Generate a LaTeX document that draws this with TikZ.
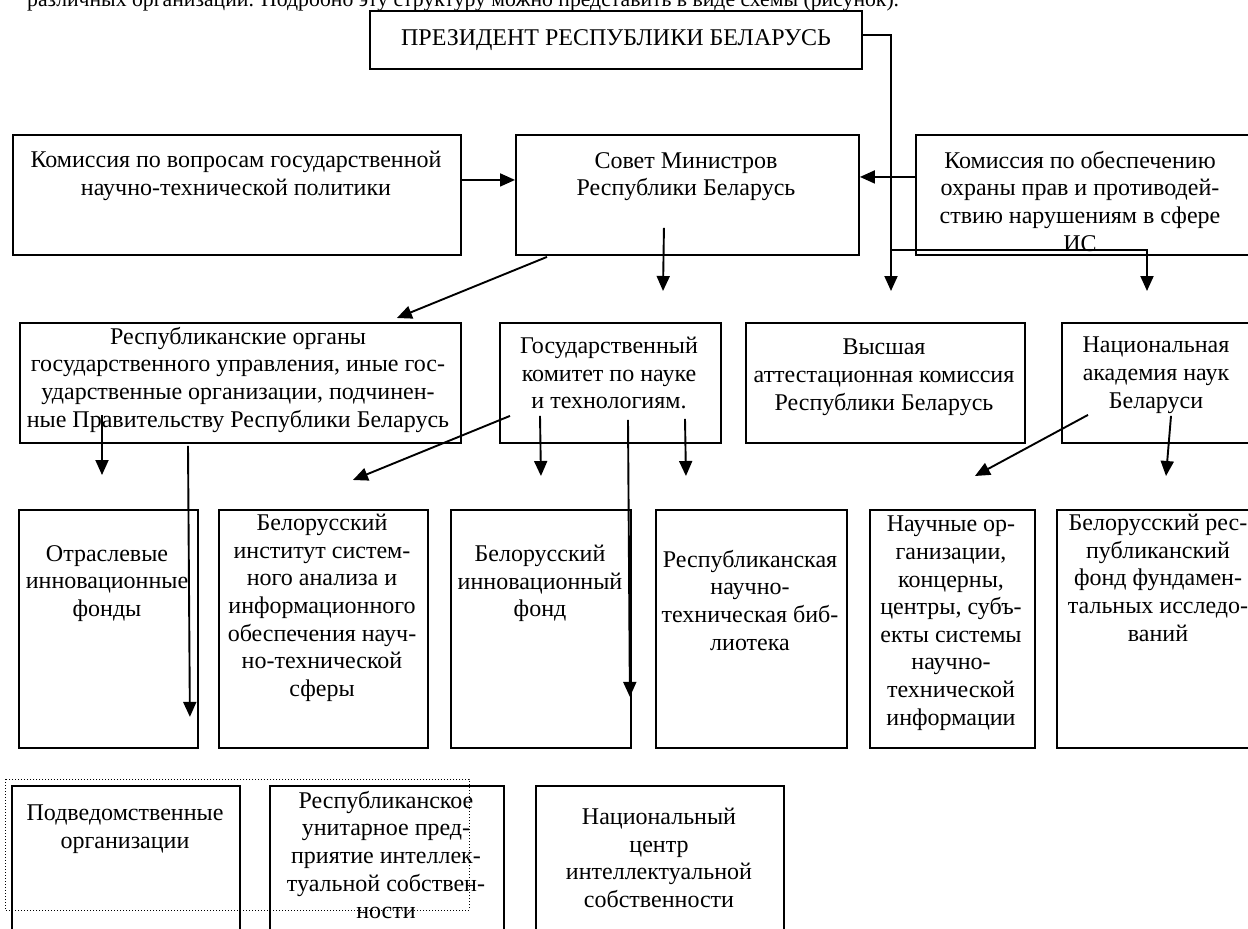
\documentclass[tikz,border=0pt]{standalone}
\usepackage{fontspec}
\setmainfont{Liberation Serif}
\usetikzlibrary{arrows.meta}
\newcommand\fs{\fontsize{24}{27.6}\selectfont}
\newcommand\bx[5]{\node[box, minimum width={(#4)-(#2)}, minimum height={(#5)-(#3)}] (#1) at (#2,#3) {};}
\begin{document}
\begin{tikzpicture}[x=1pt,y=-1pt,
  box/.style={draw, line width=1.9pt, inner sep=0pt, anchor=north west, rectangle},
  lbl/.style={align=center, inner sep=0pt, anchor=north, font=\fs},
  arr/.style={line width=1.9pt, -{Triangle[length=15pt,width=13pt]}}]
\useasboundingbox (0,0) rectangle (1248,929);
\fill[white] (0,0) rectangle (1248,929);
\clip (0,0) rectangle (1248,929);

\node[anchor=base west, inner sep=0pt, font=\fontsize{21.7}{26}\selectfont] (intro) at (27,6) {различных организаций. Подробно эту структуру можно представить в виде схемы (рисунок).};

% boxes
\node[draw, line width=1.9pt, inner sep=0pt, minimum width=492, minimum height=58, font=\fs] (pres) at (616,40) {ПРЕЗИДЕНТ РЕСПУБЛИКИ БЕЛАРУСЬ};
\bx{kom1}{12}{134}{460}{254}
\bx{sovet}{515}{134}{858}{254}
\bx{kom2}{915}{134}{1262}{254}
\bx{resp}{19}{322}{460}{442}
\bx{gosk}{499}{322}{720}{442}
\bx{vys}{745}{322}{1024}{442}
\bx{nan}{1061}{322}{1262}{442}
\bx{otr}{18}{509}{197}{747}
\bx{bisa}{218}{509}{427}{747}
\bx{bif}{450}{509}{630}{747}
\bx{rntb}{655}{509}{846}{747}
\bx{nauch}{869}{509}{1034}{747}
\bx{brf}{1056}{509}{1262}{747}
\bx{podv}{11}{785}{239}{965}
\bx{ruip}{269}{785}{503}{965}
\bx{nc}{535}{785}{783}{965}
\draw[dotted, line width=1pt] (5,779) rectangle (469,910);

% labels
\node[lbl] (kom1t) at (236,151) {Комиссия по вопросам государственной\\научно-технической политики};
\node[lbl] (sovett) at (686,152) {Совет Министров\\Республики Беларусь};
\node[lbl] (kom2t) at (1080,151) {Комиссия по обеспечению\\охраны прав и противодей-\\ствию нарушениям в сфере\\ИС};
\node[lbl] (respt) at (238,327) {Республиканские органы\\государственного управления, иные гос-\\ударственные организации, подчинен-\\ные Правительству Республики Беларусь};
\node[lbl] (goskt) at (609,337) {Государственный\\комитет по науке\\и технологиям.};
\node[lbl] (vyst) at (884,339) {Высшая\\аттестационная комиссия\\Республики Беларусь};
\node[lbl] (nant) at (1156,337) {Национальная\\академия наук\\Беларуси};
\node[lbl] (otrt) at (107,545) {Отраслевые\\инновационные\\фонды};
\node[lbl] (bisat) at (322,514) {Белорусский\\институт систем-\\ного анализа и\\информационного\\обеспечения науч-\\но-технической\\сферы};
\node[lbl] (bift) at (540,545) {Белорусский\\инновационный\\фонд};
\node[lbl] (rntbt) at (750,550) {Республиканская\\научно-\\техническая биб-\\лиотека};
\node[lbl] (naucht) at (951,516) {Научные ор-\\ганизации,\\концерны,\\центры, субъ-\\екты системы\\научно-\\технической\\информации};
\node[lbl] (brft) at (1158,514) {Белорусский рес-\\публиканский\\фонд фундамен-\\тальных исследо-\\ваний};
\node[lbl] (podvt) at (125,805) {Подведомственные\\организации};
\node[lbl] (ruipt) at (386,791) {Республиканское\\унитарное пред-\\приятие интеллек-\\туальной собствен-\\ности};
\node[lbl] (nct) at (659,808) {Национальный\\центр\\интеллектуальной\\собственности};

% free-end coordinates
\coordinate (j1) at (891,35);
\coordinate (j2) at (891,250);
\coordinate (t1) at (891,291);
\coordinate (t2) at (1147,291);
\coordinate (t3) at (663,291);

% connectors
\draw[arr] ([shift={(0,-5)}]pres.east) -- (j1) -- (t1);
\draw[arr] (j2) -| (t2);
\draw[arr] ([shift={(0,-15)}]kom1.east) -- ([shift={(0,-15)}]sovet.west);
\draw[arr] ([shift={(0,-18)}]kom2.west) -- ([shift={(0,-18)}]sovet.east);
\draw[arr] ([shift={(-23.5,-28)}]sovet.south) -- (t3);
\draw[arr] ([shift={(32,1)}]sovet.south west) -- ([shift={(-65,-4)}]resp.north east);
\draw[arr] ([shift={(83,-29)}]resp.south west) -- ([shift={(84,-34)}]otr.north west);
\draw[arr] ([shift={(169,2)}]resp.south west) -- ([shift={(-9,-32)}]otr.south east);
\draw[arr] ([shift={(11,-28)}]gosk.south west) -- ([shift={(29.5,-29)}]bisa.north);
\draw[arr] ([shift={(41,-28)}]gosk.south west) -- ([shift={(0,-33)}]bif.north);
\draw[arr] ([shift={(129,-24)}]gosk.south west) -- ([shift={(-2,-52)}]bif.south east);
\draw[arr] ([shift={(186,-25)}]gosk.south west) -- ([shift={(-65.5,-33)}]rntb.north);
\draw[arr] ([shift={(27,-29)}]nan.south west) -- ([shift={(22.5,-33)}]nauch.north);
\draw[arr] ([shift={(110,-28)}]nan.south west) -- ([shift={(110,-33)}]brf.north west);
\end{tikzpicture}
\end{document}
